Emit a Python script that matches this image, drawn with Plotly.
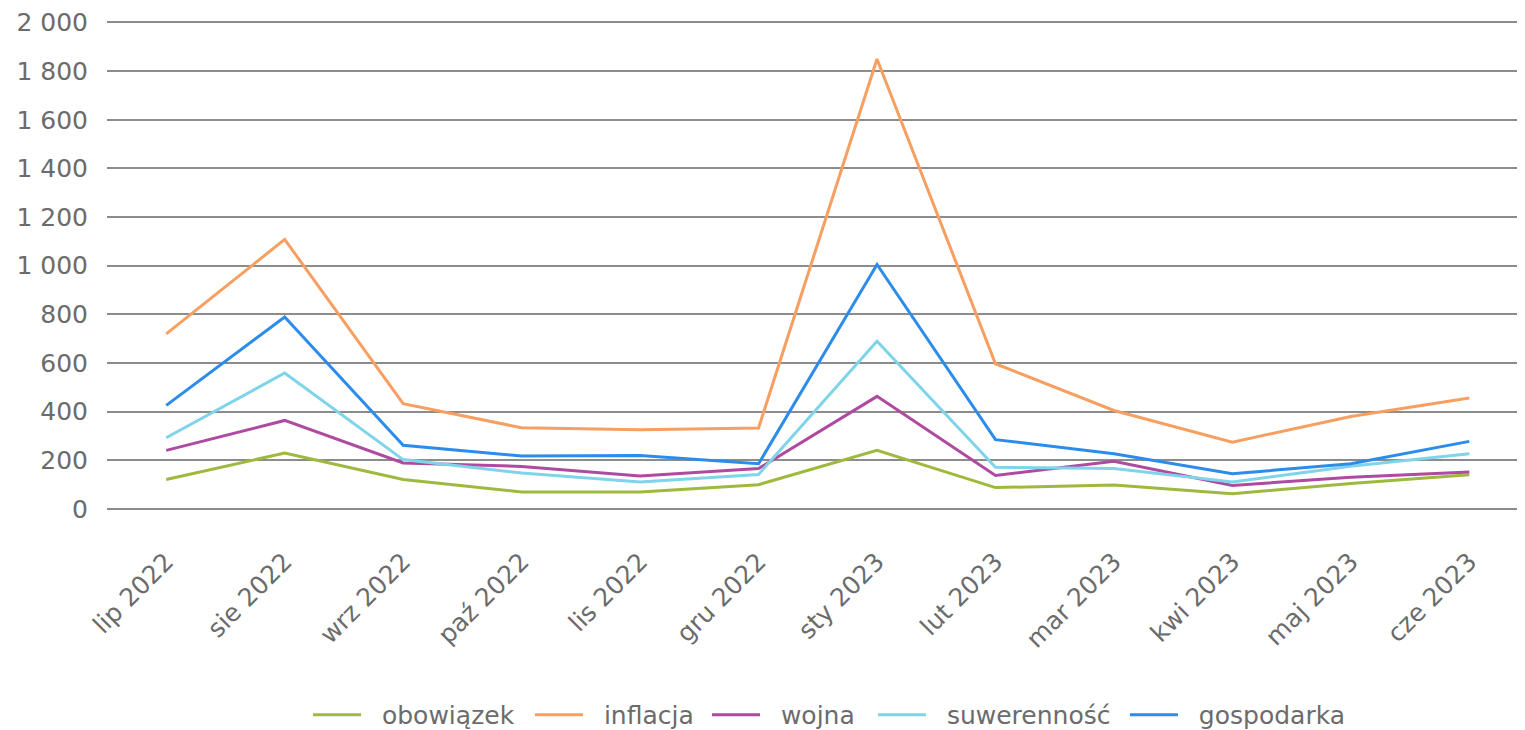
import plotly.graph_objects as go

months = ["lip 2022", "sie 2022", "wrz 2022", "paź 2022", "lis 2022", "gru 2022",
          "sty 2023", "lut 2023", "mar 2023", "kwi 2023", "maj 2023", "cze 2023"]

obowiazek = [121, 230, 121, 70, 70, 100, 241, 88, 99, 63, 105, 141]
inflacja = [720, 1108, 433, 334, 326, 333, 1850, 597, 405, 275, 380, 456]
wojna = [241, 364, 189, 175, 136, 166, 463, 138, 196, 97, 131, 152]
suwerennosc = [293, 559, 203, 148, 111, 142, 690, 172, 166, 111, 176, 227]
gospodarka = [426, 789, 262, 218, 220, 186, 1005, 285, 227, 145, 186, 278]

series = [
    ("obowiązek", obowiazek, "#9dba3e"),
    ("inflacja", inflacja, "#f79f61"),
    ("wojna", wojna, "#ae4aa0"),
    ("suwerenność", suwerennosc, "#7fd4ea"),
    ("gospodarka", gospodarka, "#2b8ceb"),
]
legend_x = [0.1978, 0.3441, 0.4608, 0.5702, 0.7363]

font = dict(family="DejaVu Sans", size=25, color="#6b6b6b")

fig = go.Figure()
legends = {}
for i, ((name, vals, col), lx) in enumerate(zip(series, legend_x)):
    key = "legend" if i == 0 else f"legend{i + 1}"
    fig.add_trace(go.Scatter(x=months, y=vals, name="\u00a0\u00a0" + name, mode="lines",
                             line=dict(color=col, width=3), legend=key))
    legends[key] = dict(x=lx, xanchor="left", xref="container",
                        y=0.0208, yanchor="middle", yref="container",
                        orientation="h", font=font, itemwidth=48,
                        bgcolor="rgba(0,0,0,0)")

fig.update_layout(
    width=1517, height=722,
    margin=dict(l=99, r=0, t=12, b=221, autoexpand=False),
    plot_bgcolor="white", paper_bgcolor="white",
    separators=", ",
    font=font,
    showlegend=True,
    xaxis=dict(type="category", tickangle=-45, showgrid=False, showline=False,
               zeroline=False, ticks="", ticklabelstandoff=32, automargin=False,
               tickfont=font, range=[-0.5, 11.47]),
    yaxis=dict(range=[0, 2010], tickvals=list(range(0, 2001, 200)), tickformat=",d",
               showgrid=True, automargin=False,
               gridcolor="#8c8c8c", gridwidth=1.5, zeroline=True,
               zerolinecolor="#8c8c8c", zerolinewidth=1.5, showline=False,
               ticks="", ticklabelstandoff=18, tickfont=font),
    **legends,
)

fig.write_html("out.html")
